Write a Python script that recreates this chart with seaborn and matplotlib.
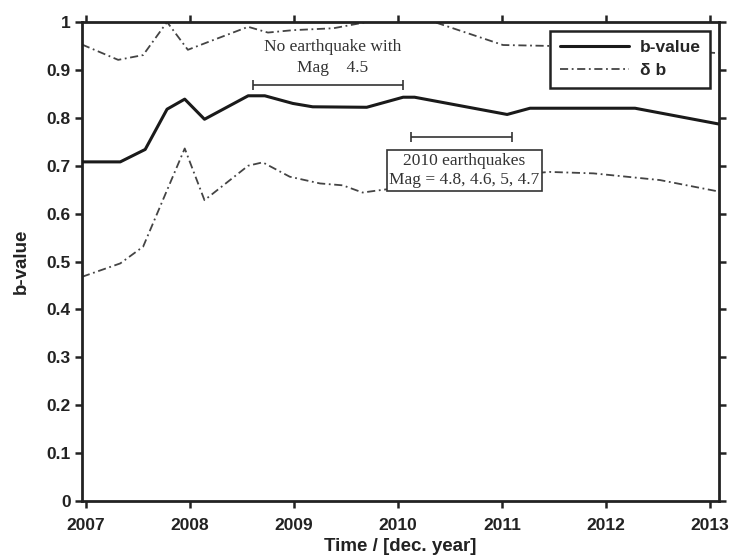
import matplotlib
matplotlib.use("Agg")
import matplotlib.pyplot as plt
import seaborn as sns
import pandas as pd

# b-value time series (decimal years)
years_b = [2006.962, 2007.33, 2007.57, 2007.78, 2007.95, 2008.14, 2008.56, 2008.72,
           2008.99, 2009.18, 2009.70, 2010.05, 2010.16, 2011.05, 2011.27, 2012.28, 2013.087]
b_vals = [0.708, 0.708, 0.734, 0.818, 0.839, 0.797, 0.846, 0.846,
          0.830, 0.823, 0.822, 0.843, 0.843, 0.807, 0.820, 0.820, 0.787]

# upper uncertainty bound
years_up = [2006.962, 2007.31, 2007.55, 2007.78, 2007.98, 2008.22, 2008.56, 2008.75,
            2008.99, 2009.38, 2009.70, 2010.35, 2011.01, 2011.48, 2012.3, 2013.087]
up_vals = [0.953, 0.921, 0.931, 1.0, 0.942, 0.962, 0.990, 0.978,
           0.983, 0.987, 1.0, 1.0, 0.952, 0.950, 0.945, 0.935]

# lower uncertainty bound
years_lo = [2006.962, 2007.33, 2007.55, 2007.95, 2008.14, 2008.56, 2008.70, 2008.96,
            2009.25, 2009.47, 2009.66, 2009.83, 2010.3, 2010.9, 2011.46, 2011.88,
            2012.52, 2013.087]
lo_vals = [0.468, 0.496, 0.531, 0.736, 0.628, 0.700, 0.707, 0.677,
           0.663, 0.659, 0.644, 0.649, 0.662, 0.678, 0.687, 0.684,
           0.670, 0.646]

x_ticks = [2007, 2008, 2009, 2010, 2011, 2012, 2013]
y_ticks = [0, 0.1, 0.2, 0.3, 0.4, 0.5, 0.6, 0.7, 0.8, 0.9, 1]
y_tick_labels = ["0", "0.1", "0.2", "0.3", "0.4", "0.5", "0.6", "0.7", "0.8", "0.9", "1"]

# periods marked on the plot
quiet_period = [2008.61, 2010.05]
quake_period = [2010.125, 2011.10]

df_b = pd.DataFrame({"year": years_b, "b": b_vals})
df_up = pd.DataFrame({"year": years_up, "b": up_vals})
df_lo = pd.DataFrame({"year": years_lo, "b": lo_vals})

sns.set_style("ticks")
plt.rcParams["font.family"] = ["Liberation Sans", "DejaVu Sans"]

fig = plt.figure(figsize=(7.30, 5.59), dpi=100)
ax = fig.add_axes([0.1123, 0.1038, 0.8726, 0.8568])

dash = (4.5, 2.0, 1.0, 2.0)
sns.lineplot(data=df_b, x="year", y="b", ax=ax, color="#1a1a1a", lw=2.2,
             label="b-value", sort=False, zorder=3)
sns.lineplot(data=df_up, x="year", y="b", ax=ax, color="#444444", lw=1.3,
             label="\u03b4 b", sort=False, zorder=2)
sns.lineplot(data=df_lo, x="year", y="b", ax=ax, color="#444444", lw=1.3,
             sort=False, zorder=2)
for ln in ax.lines[1:3]:
    ln.set_dashes(dash)

ax.set_xlim(2006.962, 2013.087)
ax.set_ylim(0, 1)
ax.set_xticks(x_ticks)
ax.set_yticks(y_ticks)
ax.set_xticklabels([str(t) for t in x_ticks])
ax.set_yticklabels(y_tick_labels)
ax.tick_params(direction="out", length=5, width=1.8, color="#222222",
               labelsize=12.5, top=True, right=True)
ax.tick_params(axis="x", pad=7)
ax.tick_params(axis="y", pad=3)
for lab in ax.get_xticklabels() + ax.get_yticklabels():
    lab.set_fontweight("bold")
    lab.set_color("#222222")
for sp in ax.spines.values():
    sp.set_visible(True)
    sp.set_linewidth(2.0)
    sp.set_color("#222222")

ax.set_xlabel("Time / [dec. year]", fontsize=13.5, fontweight="bold", color="#222222", labelpad=4)
ax.set_ylabel("b-value", fontsize=13.5, fontweight="bold", color="#222222", labelpad=12)

# annotated periods
serif = ["Liberation Serif", "DejaVu Serif"]
ax.errorbar([sum(quiet_period) / 2], [0.868],
            xerr=[[(quiet_period[1] - quiet_period[0]) / 2]], fmt="none",
            ecolor="#333333", elinewidth=1.2, capsize=3.5, capthick=1.2, zorder=4)
ax.text(2009.37, 0.926, "No earthquake with\nMag    4.5",
        ha="center", va="center", fontsize=12.5, family=serif, color="#333333",
        linespacing=1.35, zorder=5)

ax.errorbar([sum(quake_period) / 2], [0.759],
            xerr=[[(quake_period[1] - quake_period[0]) / 2]], fmt="none",
            ecolor="#333333", elinewidth=1.2, capsize=3.5, capthick=1.2, zorder=4)
ax.text(2010.64, 0.690, "2010 earthquakes\nMag = 4.8, 4.6, 5, 4.7",
        ha="center", va="center", fontsize=12.5, family=serif, color="#333333",
        linespacing=1.3, zorder=5,
        bbox=dict(boxstyle="square,pad=0.15", fc="white", ec="#333333", lw=1.2))

leg = ax.legend(loc="upper right", frameon=True, fancybox=False,
                handlelength=4.0, borderpad=0.55, labelspacing=0.45,
                handletextpad=0.6, borderaxespad=0.5, prop={"weight": "bold", "size": 12.5})
leg.get_frame().set_edgecolor("#222222")
leg.get_frame().set_linewidth(1.8)
leg.get_frame().set_alpha(1)
leg.legend_handles[1].set_dashes(dash)
leg.set_zorder(6)

fig.savefig("out.png", dpi=100)
